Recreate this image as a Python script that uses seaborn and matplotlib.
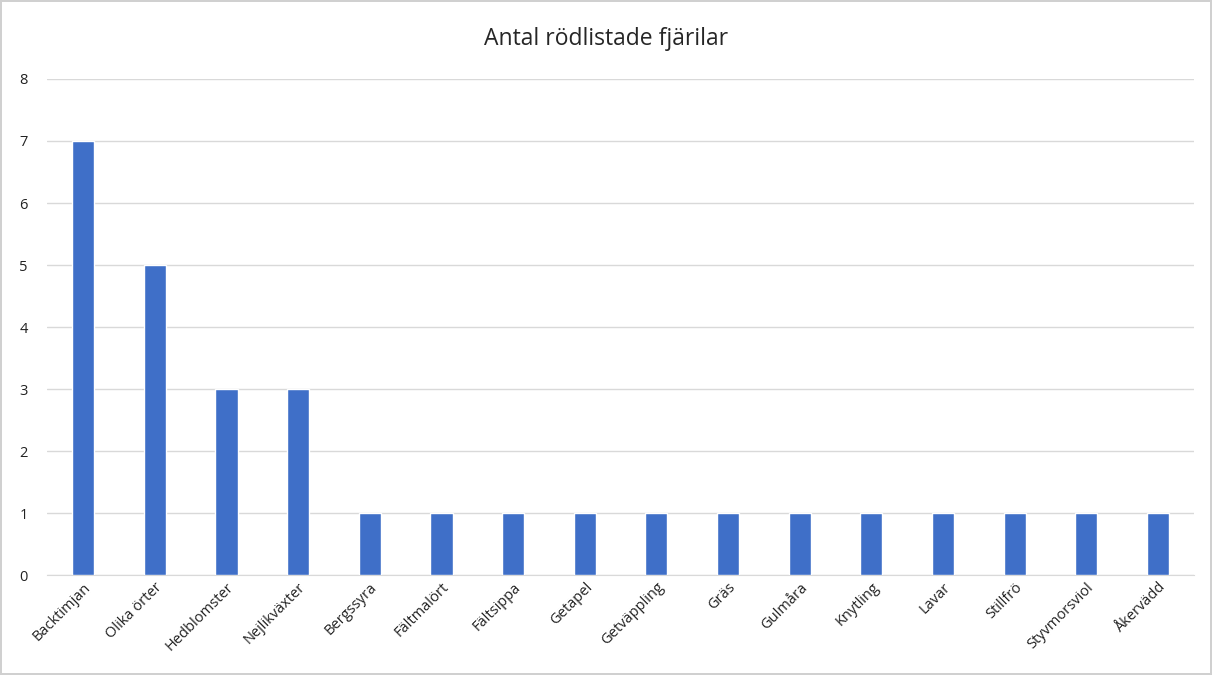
import pandas as pd
import matplotlib.pyplot as plt
import seaborn as sns

# data
vaxter = ['Backtimjan', 'Olika örter', 'Hedblomster', 'Nejlikväxter', 'Bergssyra',
          'Fältmalört', 'Fältsippa', 'Getapel', 'Getväppling', 'Gräs', 'Gulmåra',
          'Knytling', 'Lavar', 'Stillfrö', 'Styvmorsviol', 'Åkervädd']
antal = [7, 5, 3, 3, 1, 1, 1, 1, 1, 1, 1, 1, 1, 1, 1, 1]

df = pd.DataFrame({'Växt': vaxter, 'Antal': antal})

sns.set_style('white')
plt.rcParams['font.family'] = ['Open Sans', 'DejaVu Sans']

fig = plt.figure(figsize=(12.12, 6.75), dpi=100)
fig.patch.set_edgecolor('#d0d0d0')
fig.patch.set_linewidth(1.5)
ax = fig.add_axes([0.039, 0.148, 0.946, 0.735])

sns.barplot(data=df, x='Växt', y='Antal', color='#3F6FC8', saturation=1,
            width=0.31, ax=ax, zorder=3)

ax.set_ylim(0, 8)
ax.set_yticks(range(0, 9))
ax.grid(True, axis='y', color='#d9d9d9', linewidth=1, zorder=0)
for s in ['top', 'right', 'left']:
    ax.spines[s].set_visible(False)
ax.spines['bottom'].set_color('#d9d9d9')
ax.set_xlabel('')
ax.set_ylabel('')
ax.tick_params(axis='y', length=0, labelsize=10.5, pad=14, colors='#222222')
ax.tick_params(axis='x', length=0, labelsize=10.5, colors='#222222')
plt.setp(ax.get_xticklabels(), rotation=45, ha='right', rotation_mode='anchor')
fig.suptitle('Antal rödlistade fjärilar', y=0.96, fontsize=16.5)

fig.savefig('out.png', dpi=100)
